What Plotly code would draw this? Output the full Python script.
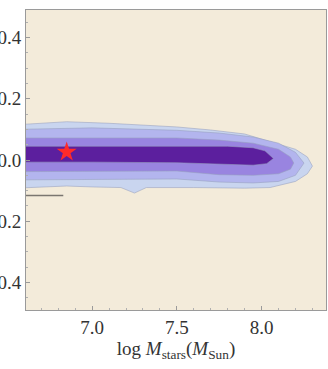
import plotly.graph_objects as go

# Contour band edges (log M_stars vs offset)
light_upper_x = [6.55, 6.85, 7.1, 7.5, 7.7, 7.9, 8.05, 8.2, 8.27, 8.30]
light_upper_y = [0.115, 0.125, 0.12, 0.108, 0.098, 0.085, 0.06, 0.035, 0.01, -0.02]
light_lower_x = [6.55, 6.85, 7.0, 7.17, 7.25, 7.32, 7.6, 7.9, 8.05, 8.2, 8.27, 8.30]
light_lower_y = [-0.092, -0.085, -0.088, -0.09, -0.108, -0.09, -0.09, -0.092, -0.09, -0.07, -0.045, -0.02]

lav_upper_x = [6.55, 7.0, 7.5, 7.75, 7.95, 8.1, 8.2, 8.25]
lav_upper_y = [0.10, 0.105, 0.097, 0.088, 0.075, 0.055, 0.025, -0.01]
lav_lower_x = [6.55, 7.5, 7.75, 7.95, 8.1, 8.2, 8.25]
lav_lower_y = [-0.065, -0.062, -0.072, -0.075, -0.07, -0.05, -0.01]

med_upper_x = [6.55, 7.5, 7.75, 7.95, 8.1, 8.17, 8.19]
med_upper_y = [0.072, 0.072, 0.065, 0.055, 0.035, 0.01, -0.01]
med_lower_x = [6.55, 7.5, 7.75, 7.95, 8.1, 8.17, 8.19]
med_lower_y = [-0.038, -0.036, -0.048, -0.05, -0.045, -0.03, -0.01]

dark_upper_x = [6.55, 7.0, 7.5, 7.8, 7.95, 8.02, 8.07]
dark_upper_y = [0.045, 0.045, 0.047, 0.045, 0.04, 0.03, 0.005]
dark_lower_x = [6.55, 7.0, 7.5, 7.8, 7.95, 8.03, 8.07]
dark_lower_y = [-0.007, -0.007, -0.009, -0.014, -0.017, -0.012, 0.005]

star_x = [6.85]
star_y = [0.026]

seg_x = [6.61, 6.83]
seg_y = [-0.116, -0.116]

x_ticks = [7.0, 7.5, 8.0]
x_tick_text = ["7.0", "7.5", "8.0"]
y_ticks = [-0.4, -0.2, 0.0, 0.2, 0.4]
y_tick_text = ["-0.4", "-0.2", "0.0", "0.2", "0.4"]

bands = [
    (light_upper_x, light_upper_y, light_lower_x, light_lower_y, "#C9D5EF"),
    (lav_upper_x, lav_upper_y, lav_lower_x, lav_lower_y, "#B3B5EE"),
    (med_upper_x, med_upper_y, med_lower_x, med_lower_y, "#9984E0"),
    (dark_upper_x, dark_upper_y, dark_lower_x, dark_lower_y, "#5C1F9E"),
]

fig = go.Figure()
for ux, uy, lx, ly, col in bands:
    fig.add_trace(go.Scatter(
        x=ux + lx[::-1], y=uy + ly[::-1], mode="lines", fill="toself",
        fillcolor=col, line=dict(color="rgba(150,160,190,0.7)", width=0.8),
        hoverinfo="skip", showlegend=False))

fig.add_trace(go.Scatter(x=seg_x, y=seg_y, mode="lines",
                         line=dict(color="#7a7670", width=1.5), showlegend=False))
fig.add_trace(go.Scatter(x=star_x, y=star_y, mode="markers",
                         marker=dict(symbol="star", size=15, color="#FF2A2A",
                                     line=dict(width=0)), showlegend=False))

serif = "Liberation Serif"
axis_common = dict(showline=True, linecolor="#9a9a9a", linewidth=1, mirror=True,
                   ticks="inside", ticklen=4, tickcolor="#9a9a9a", showgrid=False,
                   zeroline=False, automargin=False,
                   tickfont=dict(family=serif, size=19, color="#333"),
                   minor=dict(ticks="inside", ticklen=2, tickcolor="#b0b0b0"))

fig.update_layout(
    width=328, height=369,
    margin=dict(l=26, r=2, t=10, b=59),
    paper_bgcolor="white", plot_bgcolor="#F3EBDA",
    font=dict(family=serif),
    xaxis=dict(range=[6.61, 8.38], tickvals=x_ticks, ticktext=x_tick_text,
               title=dict(text="log <i>M</i><sub>stars</sub>(<i>M</i><sub>Sun</sub>)",
                          font=dict(family=serif, size=19, color="#333"), standoff=4),
               **axis_common),
    yaxis=dict(range=[-0.49, 0.49], tickvals=y_ticks, ticktext=y_tick_text, **axis_common),
)
fig.update_xaxes(minor_dtick=0.1)
fig.update_yaxes(minor_dtick=0.05)

fig.write_html("out.html")
